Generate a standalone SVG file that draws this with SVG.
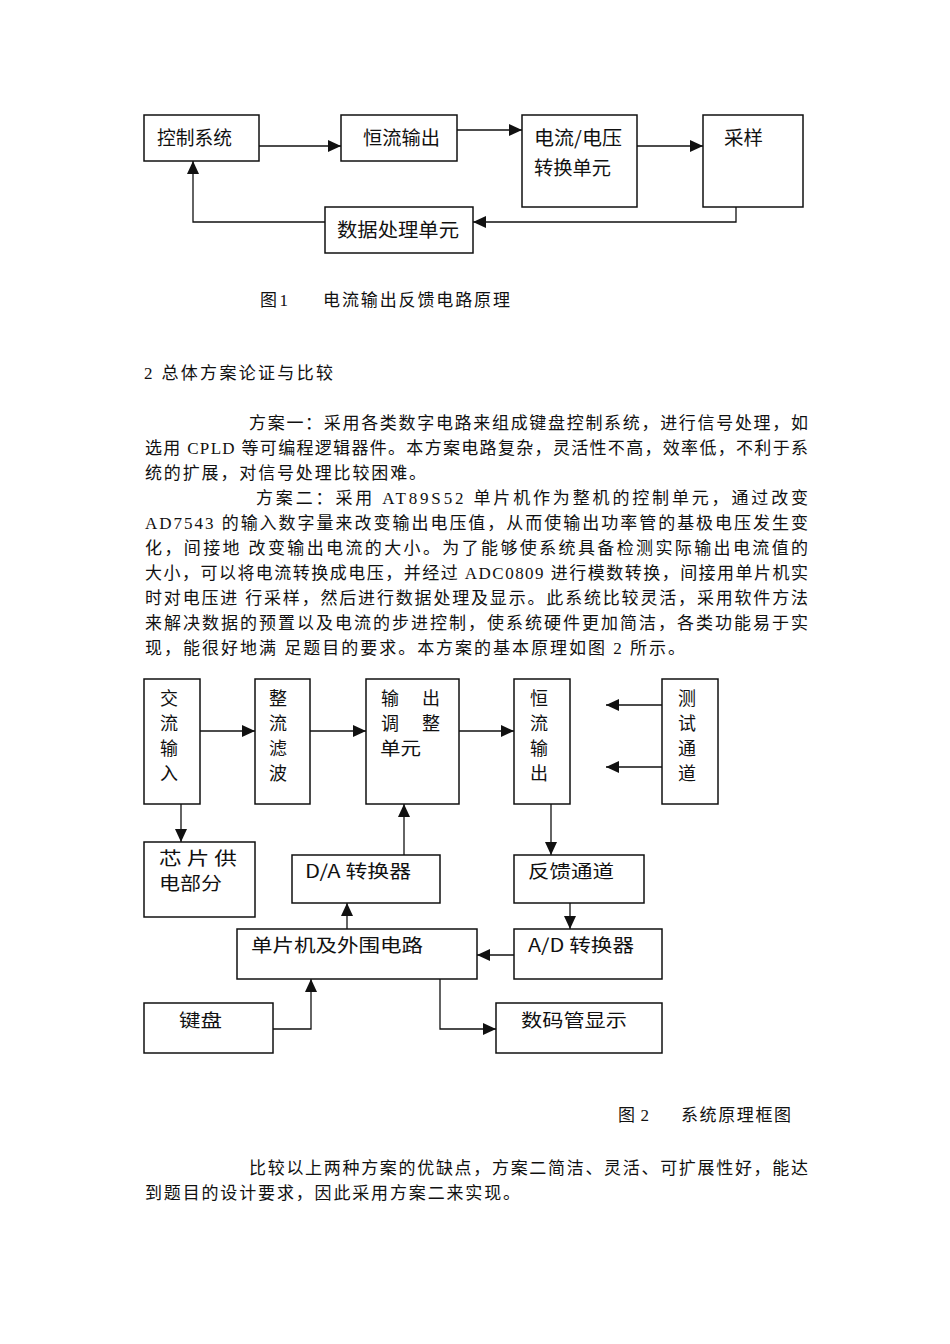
<svg xmlns="http://www.w3.org/2000/svg" width="950" height="1344" viewBox="0 0 950 1344">
<style>
.bx{fill:#fff;stroke:#111;stroke-width:1.5}
.ln{fill:none;stroke:#111;stroke-width:1.3;marker-end:url(#ah)}
.f1{font-family:"Noto Sans CJK SC","Liberation Sans",sans-serif;font-size:19px;fill:#111}
.f2{font-family:"Noto Sans CJK SC","Liberation Sans",sans-serif;font-size:18px;fill:#111}
.bt{font-family:"Liberation Serif","Noto Sans CJK SC",serif;font-size:17px;fill:#111}
</style>
<defs>
<marker id="ah" markerUnits="userSpaceOnUse" markerWidth="13" markerHeight="12" refX="13" refY="6" orient="auto">
<path d="M0,0 L13,6 L0,12 z" fill="#111"/>
</marker>
</defs>
<rect width="950" height="1344" fill="#fff"/>

<!-- Figure 1 -->
<g id="fig1-edges">
<path class="ln" d="M259,146 H341"/>
<path class="ln" d="M457,130 H522"/>
<path class="ln" d="M637,146 H703"/>
<path class="ln" d="M736,207 V222 H473"/>
<path class="ln" d="M325,222 H193 V161"/>
</g>
<g id="f1-ctrl"><rect class="bx" x="144" y="115" width="115" height="46"/><text class="f1" x="157" y="145" textLength="75" lengthAdjust="spacingAndGlyphs">控制系统</text></g>
<g id="f1-hlsc"><rect class="bx" x="341" y="115" width="116" height="46"/><text class="f1" x="363" y="145" textLength="77" lengthAdjust="spacingAndGlyphs">恒流输出</text></g>
<g id="f1-conv"><rect class="bx" x="522" y="115" width="115" height="92"/><text class="f1" x="534" y="145" textLength="88" lengthAdjust="spacingAndGlyphs">电流/电压</text><text class="f1" x="534" y="175" textLength="77" lengthAdjust="spacingAndGlyphs">转换单元</text></g>
<g id="f1-samp"><rect class="bx" x="703" y="115" width="100" height="92"/><text class="f1" x="724" y="145" textLength="39" lengthAdjust="spacingAndGlyphs">采样</text></g>
<g id="f1-data"><rect class="bx" x="325" y="207" width="148" height="46"/><text class="f1" x="337" y="237" textLength="122" lengthAdjust="spacingAndGlyphs">数据处理单元</text></g>

<text class="bt" x="260" y="306" textLength="28" lengthAdjust="spacing">图 1</text>
<text class="bt" x="323" y="306" textLength="187" lengthAdjust="spacing">电流输出反馈电路原理</text>

<text class="bt" x="144" y="379" textLength="189" lengthAdjust="spacing">2 总体方案论证与比较</text>

<text class="bt" x="249" y="429" textLength="559" lengthAdjust="spacing">方案一：采用各类数字电路来组成键盘控制系统，进行信号处理，如</text>
<text class="bt" x="145" y="454" textLength="663" lengthAdjust="spacing">选用 CPLD 等可编程逻辑器件。本方案电路复杂，灵活性不高，效率低，不利于系</text>
<text class="bt" x="145" y="479" textLength="281" lengthAdjust="spacing">统的扩展，对信号处理比较困难。</text>
<text class="bt" x="256" y="504" textLength="552" lengthAdjust="spacing">方案二：采用 AT89S52 单片机作为整机的控制单元，通过改变</text>
<text class="bt" x="145" y="529" textLength="663" lengthAdjust="spacing">AD7543 的输入数字量来改变输出电压值，从而使输出功率管的基极电压发生变</text>
<text class="bt" x="145" y="554" textLength="663" lengthAdjust="spacing">化，间接地 改变输出电流的大小。为了能够使系统具备检测实际输出电流值的</text>
<text class="bt" x="145" y="579" textLength="663" lengthAdjust="spacing">大小，可以将电流转换成电压，并经过 ADC0809 进行模数转换，间接用单片机实</text>
<text class="bt" x="145" y="604" textLength="663" lengthAdjust="spacing">时对电压进 行采样，然后进行数据处理及显示。此系统比较灵活，采用软件方法</text>
<text class="bt" x="145" y="629" textLength="663" lengthAdjust="spacing">来解决数据的预置以及电流的步进控制，使系统硬件更加简洁，各类功能易于实</text>
<text class="bt" x="145" y="654" textLength="540" lengthAdjust="spacing">现，能很好地满 足题目的要求。本方案的基本原理如图 2 所示。</text>

<!-- Figure 2 -->
<g id="fig2-edges">
<path class="ln" d="M200,731 H255"/>
<path class="ln" d="M310,731 H366"/>
<path class="ln" d="M459,731 H514"/>
<path class="ln" d="M662,705 H606"/>
<path class="ln" d="M662,767 H606"/>
<path class="ln" d="M181,804 V842"/>
<path class="ln" d="M404,855 V804"/>
<path class="ln" d="M551,804 V855"/>
<path class="ln" d="M570,903 V929"/>
<path class="ln" d="M514,955 H477"/>
<path class="ln" d="M347,929 V903"/>
<path class="ln" d="M273,1029 H311 V979"/>
<path class="ln" d="M440,979 V1029 H496"/>
</g>
<g id="f2-ac"><rect class="bx" x="144" y="679" width="56" height="125"/><text class="f2" text-anchor="middle"><tspan x="169" y="705">交</tspan><tspan x="169" y="730">流</tspan><tspan x="169" y="755">输</tspan><tspan x="169" y="780">入</tspan></text></g>
<g id="f2-rect"><rect class="bx" x="255" y="679" width="55" height="125"/><text class="f2" text-anchor="middle"><tspan x="278" y="705">整</tspan><tspan x="278" y="730">流</tspan><tspan x="278" y="755">滤</tspan><tspan x="278" y="780">波</tspan></text></g>
<g id="f2-adj"><rect class="bx" x="366" y="679" width="93" height="125"/><text class="f2" text-anchor="middle"><tspan x="390" y="705">输</tspan><tspan x="431" y="705">出</tspan><tspan x="390" y="730">调</tspan><tspan x="431" y="730">整</tspan></text><text class="f2" x="380" y="755" textLength="41" lengthAdjust="spacingAndGlyphs">单元</text></g>
<g id="f2-cc"><rect class="bx" x="514" y="679" width="56" height="125"/><text class="f2" text-anchor="middle"><tspan x="539" y="705">恒</tspan><tspan x="539" y="730">流</tspan><tspan x="539" y="755">输</tspan><tspan x="539" y="780">出</tspan></text></g>
<g id="f2-test"><rect class="bx" x="662" y="679" width="56" height="125"/><text class="f2" text-anchor="middle"><tspan x="687" y="705">测</tspan><tspan x="687" y="730">试</tspan><tspan x="687" y="755">通</tspan><tspan x="687" y="780">道</tspan></text></g>
<g id="f2-chip"><rect class="bx" x="144" y="842" width="111" height="75"/><text class="f2" x="159" y="865" textLength="78" lengthAdjust="spacingAndGlyphs">芯 片 供</text><text class="f2" x="159" y="890" textLength="63" lengthAdjust="spacingAndGlyphs">电部分</text></g>
<g id="f2-da"><rect class="bx" x="292" y="855" width="148" height="48"/><text class="f2" x="305" y="878" textLength="106" lengthAdjust="spacingAndGlyphs">D/A 转换器</text></g>
<g id="f2-fb"><rect class="bx" x="514" y="855" width="130" height="48"/><text class="f2" x="528" y="878" textLength="86" lengthAdjust="spacingAndGlyphs">反馈通道</text></g>
<g id="f2-mcu"><rect class="bx" x="237" y="929" width="240" height="50"/><text class="f2" x="251" y="952" textLength="172" lengthAdjust="spacingAndGlyphs">单片机及外围电路</text></g>
<g id="f2-ad"><rect class="bx" x="514" y="929" width="148" height="50"/><text class="f2" x="528" y="952" textLength="106" lengthAdjust="spacingAndGlyphs">A/D 转换器</text></g>
<g id="f2-kb"><rect class="bx" x="144" y="1003" width="129" height="50"/><text class="f2" x="179" y="1027" textLength="43" lengthAdjust="spacingAndGlyphs">键盘</text></g>
<g id="f2-disp"><rect class="bx" x="496" y="1003" width="166" height="50"/><text class="f2" x="521" y="1027" textLength="106" lengthAdjust="spacingAndGlyphs">数码管显示</text></g>

<text class="bt" x="618" y="1121" textLength="31" lengthAdjust="spacing">图2</text>
<text class="bt" x="681" y="1121" textLength="110" lengthAdjust="spacing">系统原理框图</text>

<text class="bt" x="249" y="1174" textLength="559" lengthAdjust="spacing">比较以上两种方案的优缺点，方案二简洁、灵活、可扩展性好，能达</text>
<text class="bt" x="145" y="1199" textLength="375" lengthAdjust="spacing">到题目的设计要求，因此采用方案二来实现。</text>
</svg>
